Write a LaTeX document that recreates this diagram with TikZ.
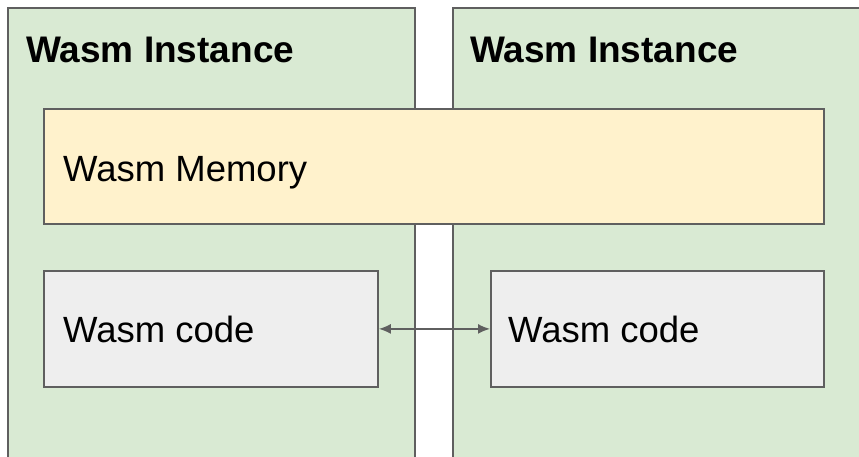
\documentclass[tikz,border=0pt]{standalone}
\usepackage{fontspec}
\setmainfont{Liberation Sans}
\usetikzlibrary{arrows.meta}

\definecolor{instgreen}{HTML}{D9EAD3}
\definecolor{memyellow}{HTML}{FFF2CC}
\definecolor{codegray}{HTML}{EEEEEE}
\definecolor{edgegray}{HTML}{5F5F5F}

\tikzset{
  box/.style={draw=edgegray, line width=1.8pt, inner sep=0pt, anchor=north west},
  txt/.style={inner sep=0pt, anchor=base west, font=\fontsize{36.5}{44}\selectfont},
  link/.style={{Latex[length=12pt,width=10pt]}-{Latex[length=12pt,width=10pt]}, draw=edgegray, line width=1.7pt},
}

\begin{document}
\begin{tikzpicture}[x=1pt,y=-1pt]
\useasboundingbox (0,0) rectangle (859,456);
\clip (0,0) rectangle (859,456);

% the two instances
\node[box, fill=instgreen, minimum width=407pt, minimum height=480pt] (inst1) at (7,7) {};
\node[box, fill=instgreen, minimum width=460pt, minimum height=480pt] (inst2) at (452,7) {};
\node[txt, font=\fontsize{37}{44}\selectfont\bfseries] (inst1lbl) at (26,62) {Wasm Instance};
\node[txt, font=\fontsize{37}{44}\selectfont\bfseries] (inst2lbl) at (470,62) {Wasm Instance};

% memory shared by both
\node[box, fill=memyellow, minimum width=780pt, minimum height=115pt] (mem) at (43,108) {};
\node[txt] (memlbl) at (63,181) {Wasm Memory};

% code of each instance
\node[box, fill=codegray, minimum width=334pt, minimum height=116pt] (code1) at (43,270) {};
\node[box, fill=codegray, minimum width=333pt, minimum height=116pt] (code2) at (490,270) {};
\node[txt] (code1lbl) at (63,342) {Wasm code};
\node[txt] (code2lbl) at (508,342) {Wasm code};

\draw[link] (code1.east) -- (code2.west);

\end{tikzpicture}
\end{document}
